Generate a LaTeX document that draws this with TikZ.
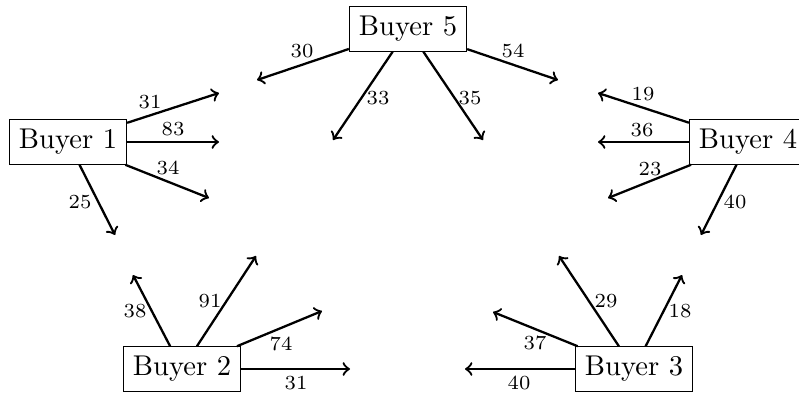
\documentclass[tikz,border=0pt]{standalone}
\begin{document}
\begin{tikzpicture}[x=0.35pt,y=-0.35pt,
  buyer/.style={draw, font=\normalsize},
  arr/.style={->, thick},
  lbl/.style={font=\scriptsize}]
\useasboundingbox (0,0) rectangle (799,393);
% nodes
\node[buyer] (b1) at (68,142) {Buyer 1};
\node[buyer] (b5) at (408,29) {Buyer 5};
\node[buyer] (b4) at (748,142) {Buyer 4};
\node[buyer] (b2) at (182,369) {Buyer 2};
\node[buyer] (b3) at (634,369) {Buyer 3};
% free ends
\coordinate (e1a) at (219,93);
\coordinate (e1b) at (219,142);
\coordinate (e1c) at (209,198);
\coordinate (e1d) at (115,235);
\coordinate (e5a) at (257,80);
\coordinate (e5b) at (333,140);
\coordinate (e5c) at (483,140);
\coordinate (e5d) at (558,80);
\coordinate (e4a) at (598,93);
\coordinate (e4b) at (598,142);
\coordinate (e4c) at (608,198);
\coordinate (e4d) at (701,235);
\coordinate (e2a) at (133,275);
\coordinate (e2b) at (256,256);
\coordinate (e2c) at (322,311);
\coordinate (e2d) at (350,369);
\coordinate (e3a) at (465,369);
\coordinate (e3b) at (493,312);
\coordinate (e3c) at (559,256);
\coordinate (e3d) at (682,275);
% Buyer 1
\draw[arr] (b1) -- (e1a) node[lbl] at (150,102) {31};
\draw[arr] (b1) -- (e1b) node[lbl] at (173,129) {83};
\draw[arr] (b1) -- (e1c) node[lbl] at (168,168) {34};
\draw[arr] (b1) -- (e1d) node[lbl] at (80,202) {25};
% Buyer 5
\draw[arr] (b5) -- (e5a) node[lbl] at (302,51) {30};
\draw[arr] (b5) -- (e5b) node[lbl] at (378,98) {33};
\draw[arr] (b5) -- (e5c) node[lbl] at (470,98) {35};
\draw[arr] (b5) -- (e5d) node[lbl] at (513,51) {54};
% Buyer 4
\draw[arr] (b4) -- (e4a) node[lbl] at (643,94) {19};
\draw[arr] (b4) -- (e4b) node[lbl] at (642,130) {36};
\draw[arr] (b4) -- (e4c) node[lbl] at (650,169) {23};
\draw[arr] (b4) -- (e4d) node[lbl] at (735,202) {40};
% Buyer 2
\draw[arr] (b2) -- (e2a) node[lbl] at (135,311) {38};
\draw[arr] (b2) -- (e2b) node[lbl] at (210,301) {91};
\draw[arr] (b2) -- (e2c) node[lbl] at (281,344) {74};
\draw[arr] (b2) -- (e2d) node[lbl] at (296,383) {31};
% Buyer 3
\draw[arr] (b3) -- (e3a) node[lbl] at (519,383) {40};
\draw[arr] (b3) -- (e3b) node[lbl] at (535,343) {37};
\draw[arr] (b3) -- (e3c) node[lbl] at (606,301) {29};
\draw[arr] (b3) -- (e3d) node[lbl] at (680,311) {18};
\end{tikzpicture}
\end{document}
